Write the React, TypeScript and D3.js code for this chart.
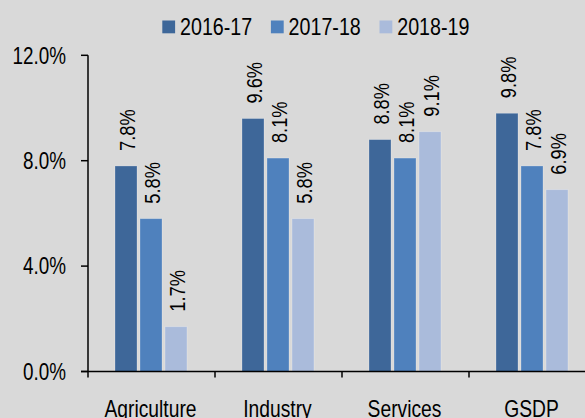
import React from "react";
import * as d3 from "d3";

const categories = ["Agriculture", "Industry", "Services", "GSDP"];
const seriesNames = ["2016-17", "2017-18", "2018-19"];
const values2016 = [7.8, 9.6, 8.8, 9.8];
const values2017 = [5.8, 8.1, 8.1, 7.8];
const values2018 = [1.7, 5.8, 9.1, 6.9];
const yTicks = [0, 4, 8, 12];
const colors = ["#3E6799", "#4F81BD", "#AABBDB"];

const W = 585;
const H = 418;
const FONT = "'Liberation Sans', Arial, sans-serif";
const NARROW = 0.82;

function NText(props: { x: number; y: number; size: number; anchor?: string; rotate?: number; children: React.ReactNode }) {
  const { x, y, size, anchor = "start", rotate = 0, children } = props;
  return (
    <text
      transform={`translate(${x},${y}) rotate(${rotate}) scale(${NARROW},1)`}
      fontSize={size}
      textAnchor={anchor}
      fill="#000"
    >
      {children}
    </text>
  );
}

export default function App() {
  const seriesValues = [values2016, values2017, values2018];
  const left = 88;
  const catStep = 127;
  const x0 = d3.scaleBand<string>().domain(categories).range([left, left + catStep * categories.length]).padding(0);
  const x1 = d3.scaleBand<string>().domain(seriesNames).range([27, 102]).padding(0);
  const y = d3.scaleLinear().domain([0, 12]).range([371.5, 55.3]);
  const barW = x1.bandwidth() - 3;

  return (
    <svg width={W} height={H} style={{ position: "fixed", left: 0, top: 0, display: "block" }} fontFamily={FONT}>
      <rect x={0} y={0} width={W} height={H} fill="#D9D9D9" />
      {/* legend */}
      {seriesNames.map((s, i) => {
        const lx = 162.3 + i * 108.6;
        return (
          <g key={s}>
            <rect x={lx} y={20.5} width={12.8} height={12.8} fill={colors[i]} />
            <NText x={lx + 17.7} y={35} size={24}>{s}</NText>
          </g>
        );
      })}
      {/* bars */}
      {categories.map((c, ci) => (
        <g key={c}>
          {seriesNames.map((s, si) => {
            const v = seriesValues[si][ci];
            const bx = (x0(c) as number) + (x1(s) as number);
            const top = y(v);
            const cx = bx + barW / 2;
            return (
              <g key={s}>
                <rect x={bx} y={top} width={barW} height={y(0) - top} fill={colors[si]} stroke="rgba(255,255,255,0.3)" strokeWidth={0.8} />
                <NText x={cx + 8.5} y={top - 15} size={22.3} rotate={-90}>
                  {v.toFixed(1)}%
                </NText>
              </g>
            );
          })}
        </g>
      ))}
      {/* y axis */}
      <line x1={left} x2={left} y1={y(12)} y2={377.5} stroke="#000" strokeWidth={1.5} />
      {yTicks.map((t) => (
        <g key={t}>
          <line x1={81} x2={left} y1={y(t)} y2={y(t)} stroke="#000" strokeWidth={1.5} />
          <NText x={66} y={y(t) + 8.2} size={23} anchor="end">
            {t.toFixed(1)}%
          </NText>
        </g>
      ))}
      {/* x axis */}
      <line x1={81} x2={W} y1={y(0)} y2={y(0)} stroke="#000" strokeWidth={1.5} />
      {categories.map((c) => {
        const bx = (x0(c) as number) + catStep;
        return <line key={"t" + c} x1={bx} x2={bx} y1={y(0)} y2={377.5} stroke="#000" strokeWidth={1.5} />;
      })}
      {categories.map((c) => (
        <NText key={"l" + c} x={(x0(c) as number) + catStep / 2 - 1} y={416.5} size={23.5} anchor="middle">
          {c}
        </NText>
      ))}
    </svg>
  );
}
